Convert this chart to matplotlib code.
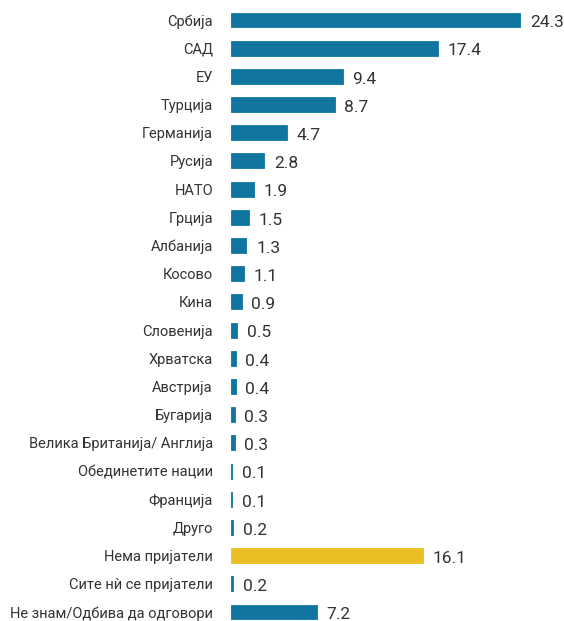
import matplotlib.pyplot as plt

plt.rcParams['font.family'] = ['Roboto', 'DejaVu Sans']

categories = [
    "Србија", "САД", "ЕУ", "Турција", "Германија", "Русија", "НАТО",
    "Грција", "Албанија", "Косово", "Кина", "Словенија", "Хрватска",
    "Австрија", "Бугарија", "Велика Британија/ Англија",
    "Обединетите нации", "Франција", "Друго", "Нема пријатели",
    "Сите нѝ се пријатели", "Не знам/Одбива да одговори"
]
values = [24.3, 17.4, 9.4, 8.7, 4.7, 2.8, 1.9, 1.5, 1.3, 1.1, 0.9, 0.5,
          0.4, 0.4, 0.3, 0.3, 0.1, 0.1, 0.2, 16.1, 0.2, 7.2]
highlight = "Нема пријатели"

BLUE = "#11769f"
YELLOW = "#ecbe26"
TEXT = "#333333"

fig = plt.figure(figsize=(5.64, 6.21), dpi=100)
ax = fig.add_axes([231 / 564, 0, 1 - 231 / 564, 1])

colors = [YELLOW if c == highlight else BLUE for c in categories]
pos = range(len(categories))

ax.barh(pos, values, height=0.53, color=colors, edgecolor=colors,
        linewidth=0.6)

for i, v in enumerate(values):
    ax.annotate(
        f"{v:.1f}",
        (v, i),
        xytext=(7, -2),
        textcoords="offset points",
        ha="left",
        va="center",
        fontsize=12.5,
        color=TEXT
    )

ax.set_yticks(list(pos))
ax.set_yticklabels(categories, fontsize=10.5, color=TEXT)
ax.tick_params(axis="y", length=0, pad=13)
ax.set_xticks([])

ax.set_xlim(0, 333 / 11.9)
ax.set_ylim(21 + 9 / 28.19, -20 / 28.19)

for s in ax.spines.values():
    s.set_visible(False)

plt.savefig("out.png", dpi=100)
plt.close()
